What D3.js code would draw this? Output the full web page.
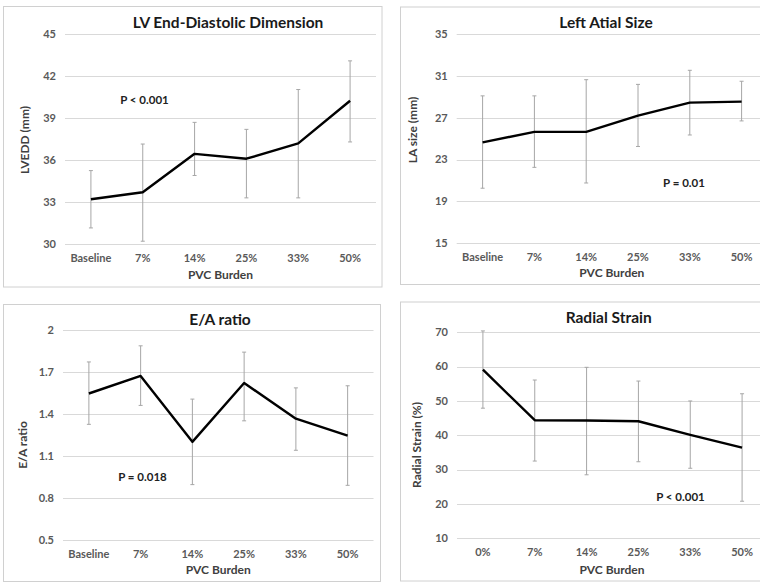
<!DOCTYPE html>
<html>
<head>
<meta charset="utf-8">
<script src="https://cdn.jsdelivr.net/npm/d3@7"></script>
<style>
	body { margin: 0; background: #fff; }
	svg { display: block; font-family: Lato, "Open Sans", sans-serif; }
	.grid line { stroke: #d9d9d9; stroke-width: 1; }
	.tick-label { fill: #595959; font-size: 11px; font-weight: bold; }
	.axis-title { fill: #404040; font-size: 12px; font-weight: bold; }
	.chart-title { fill: #1a1a1a; font-size: 15.5px; font-weight: bold; }
	.p-label { fill: #222; font-size: 11.5px; font-weight: bold; }
</style>
</head>
<body>
<svg id="chart" width="760" height="583"></svg>
<script>
// Categories (x axis)
var burden_cats = ['Baseline', '7%', '14%', '25%', '33%', '50%'];
var strain_cats = ['0%', '7%', '14%', '25%', '33%', '50%'];

// LV end-diastolic dimension (mm)
var lvedd_mean = [33.2, 33.7, 36.45, 36.1, 37.2, 40.25];
var lvedd_hi   = [35.25, 37.15, 38.7, 38.2, 41.05, 43.1];
var lvedd_lo   = [31.15, 30.2, 34.9, 33.3, 33.3, 37.3];
var lvedd_ticks = [30, 33, 36, 39, 42, 45];

// Left atrial size (mm)
var la_mean = [24.65, 25.65, 25.65, 27.2, 28.45, 28.55];
var la_hi   = [29.1, 29.1, 30.65, 30.2, 31.55, 30.5];
var la_lo   = [20.25, 22.25, 20.75, 24.25, 25.35, 26.7];
var la_ticks = [15, 19, 23, 27, 31, 35];

// E/A ratio
var ea_mean = [1.545, 1.67, 1.2, 1.62, 1.365, 1.245];
var ea_hi   = [1.77, 1.885, 1.505, 1.84, 1.585, 1.6];
var ea_lo   = [1.325, 1.46, 0.895, 1.35, 1.14, 0.89];
var ea_ticks = [0.5, 0.8, 1.1, 1.4, 1.7, 2];

// Radial strain (%)
var rs_mean = [59.1, 44.4, 44.3, 44.1, 40.1, 36.4];
var rs_hi   = [70.4, 56.1, 59.8, 55.8, 50.0, 52.1];
var rs_lo   = [47.9, 32.5, 28.5, 32.3, 30.4, 20.8];
var rs_ticks = [10, 20, 30, 40, 50, 60, 70];

var panels = [
	{ title: 'LV End-Diastolic Dimension', ylabel: 'LVEDD (mm)', p: 'P < 0.001',
	  cats: burden_cats, mean: lvedd_mean, hi: lvedd_hi, lo: lvedd_lo, ticks: lvedd_ticks, fmt: d3.format('d') },
	{ title: 'Left Atial Size', ylabel: 'LA size (mm)', p: 'P = 0.01',
	  cats: burden_cats, mean: la_mean, hi: la_hi, lo: la_lo, ticks: la_ticks, fmt: d3.format('d') },
	{ title: 'E/A ratio', ylabel: 'E/A ratio', p: 'P = 0.018',
	  cats: burden_cats, mean: ea_mean, hi: ea_hi, lo: ea_lo, ticks: ea_ticks, fmt: d => String(d) },
	{ title: 'Radial Strain', ylabel: 'Radial Strain (%)', p: 'P < 0.001',
	  cats: strain_cats, mean: rs_mean, hi: rs_hi, lo: rs_lo, ticks: rs_ticks, fmt: d3.format('d') }
];

// Layout per panel: frame box, plot area and label anchors (pixels).
var layout = [
	{ box: [3.5, 6.5, 378.5, 280.5], plot: [65, 376, 34.3, 244], title: [228, 23], ylab: [25, 140], xlab: 30.5, pos: [144.5, 100] },
	{ box: [400.5, 7, 380, 277.5], plot: [456.7, 767.5, 34.3, 243], title: [606, 23], ylab: [412.3, 130], xlab: 30, pos: [684, 183] },
	{ box: [3.5, 304.5, 377, 277], plot: [63, 373.5, 329.7, 540], title: [220, 319.5], ylab: [22.7, 445], xlab: 30, pos: [142.5, 476.7] },
	{ box: [400.5, 302, 380, 279], plot: [457, 768, 332.3, 538.3], title: [608.7, 317.5], ylab: [416.7, 445], xlab: 31.5, pos: [680.5, 496.7] }
];

var svg = d3.select('#chart');

function drawPanel(cfg, lay) {
	var g = svg.append('g').attr('class', 'panel');

	// Frame.
	g.append('rect')
	  .attr('x', lay.box[0]).attr('y', lay.box[1])
	  .attr('width', lay.box[2]).attr('height', lay.box[3])
	  .style('fill', 'none')
	  .style('stroke', '#d0d0d0');

	var x = d3.scaleBand()
		.domain(cfg.cats)
		.range([lay.plot[0], lay.plot[1]]);
	var y = d3.scaleLinear()
		.domain(d3.extent(cfg.ticks))
		.range([lay.plot[3], lay.plot[2]]);

	// Gridlines.
	g.append('g').attr('class', 'grid')
	  .selectAll('line')
	  .data(cfg.ticks)
	  .enter().append('line')
	  .attr('x1', lay.plot[0]).attr('x2', lay.plot[1])
	  .attr('y1', d => Math.round(y(d)) + 0.5)
	  .attr('y2', d => Math.round(y(d)) + 0.5);

	// Y tick labels.
	g.selectAll('.ytick')
	  .data(cfg.ticks)
	  .enter().append('text')
	  .attr('class', 'tick-label')
	  .attr('x', lay.plot[0] - 9)
	  .attr('y', d => y(d))
	  .attr('dy', '0.35em')
	  .attr('text-anchor', 'end')
	  .text(cfg.fmt);

	// X tick labels.
	g.selectAll('.xtick')
	  .data(cfg.cats)
	  .enter().append('text')
	  .attr('class', 'tick-label')
	  .attr('x', d => x(d) + x.bandwidth() / 2)
	  .attr('y', lay.plot[3] + 14)
	  .attr('dy', '0.35em')
	  .attr('text-anchor', 'middle')
	  .text(d => d);

	var pts = cfg.cats.map((c, i) => ({ cat: c, m: cfg.mean[i], hi: cfg.hi[i], lo: cfg.lo[i] }));
	var cx = d => x(d.cat) + x.bandwidth() / 2;

	// Error bars.
	var eb = g.selectAll('.errbar')
		.data(pts)
		.enter().append('g')
		.attr('class', 'errbar')
		.style('stroke', '#a6a6a6')
		.style('stroke-width', 1);
	eb.append('line')
	  .attr('x1', cx).attr('x2', cx)
	  .attr('y1', d => y(d.hi)).attr('y2', d => y(d.lo));
	eb.append('line')
	  .attr('x1', d => cx(d) - 2).attr('x2', d => cx(d) + 2)
	  .attr('y1', d => y(d.hi)).attr('y2', d => y(d.hi));
	eb.append('line')
	  .attr('x1', d => cx(d) - 2).attr('x2', d => cx(d) + 2)
	  .attr('y1', d => y(d.lo)).attr('y2', d => y(d.lo));

	// Mean line.
	g.append('path')
	  .datum(pts)
	  .attr('d', d3.line().x(cx).y(d => y(d.m)))
	  .style('fill', 'none')
	  .style('stroke', '#000')
	  .style('stroke-width', 2.4)
	  .style('stroke-linejoin', 'round');

	// Titles and annotation.
	g.append('text')
	  .attr('class', 'chart-title')
	  .attr('x', lay.title[0]).attr('y', lay.title[1])
	  .attr('dy', '0.35em')
	  .attr('text-anchor', 'middle')
	  .text(cfg.title);
	g.append('text')
	  .attr('class', 'axis-title')
	  .attr('transform', 'translate(' + lay.ylab[0] + ',' + lay.ylab[1] + ')rotate(-90)')
	  .attr('dy', '0.35em')
	  .attr('text-anchor', 'middle')
	  .text(cfg.ylabel);
	g.append('text')
	  .attr('class', 'axis-title')
	  .attr('x', (lay.plot[0] + Math.min(lay.plot[1], 760 + 7)) / 2)
	  .attr('y', lay.plot[3] + lay.xlab)
	  .attr('dy', '0.35em')
	  .attr('text-anchor', 'middle')
	  .text('PVC Burden');
	g.append('text')
	  .attr('class', 'p-label')
	  .attr('x', lay.pos[0]).attr('y', lay.pos[1])
	  .attr('dy', '0.35em')
	  .attr('text-anchor', 'middle')
	  .text(cfg.p);
}

panels.forEach((p, i) => drawPanel(p, layout[i]));
</script>
</body>
</html>
